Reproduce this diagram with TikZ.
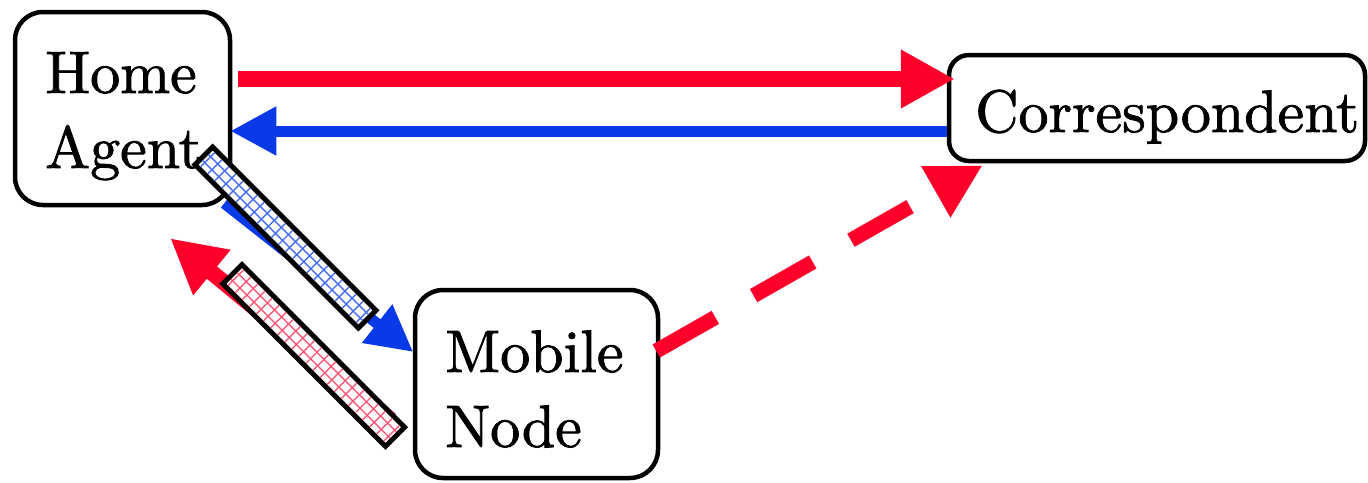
\documentclass[tikz,border=0pt]{standalone}
\usepackage{fontspec}
\setmainfont{lmroman10-regular.otf}[FakeBold=1.3]
\usetikzlibrary{arrows.meta,calc}
\definecolor{ared}{RGB}{255,0,43}
\definecolor{ablue}{RGB}{10,58,232}
\definecolor{lred}{RGB}{255,90,120}
\definecolor{lblue}{RGB}{70,110,240}
\begin{document}
\begin{tikzpicture}[x=1pt,y=-1pt,
  box/.style={draw=black, line width=4.5pt, fill=white, inner sep=0pt},
  txt/.style={font=\rmfamily\fontsize{60}{75}\selectfont, inner sep=0pt, anchor=base west},
  redarrow/.style={draw=ared, line width=16pt, -{Triangle[length=54pt,width=55pt]}},
  bluearrow/.style={draw=ablue, line width=11pt, -{Triangle[length=46pt,width=46pt]}},
  hatchbox/.style={draw=black, line width=5pt, fill=white, inner sep=0pt, rotate=-45},
  gridline/.style={line width=1.4pt},
]
\useasboundingbox (0,0) rectangle (1368,482);

% boxes
\node[box, rounded corners=28pt, minimum width=215pt, minimum height=193pt] (ha) at (122.5,108.5) {};
\node[box, rounded corners=20pt, minimum width=416pt, minimum height=106pt] (co) at (1157,108) {};
\node[box, rounded corners=28pt, minimum width=243pt, minimum height=188pt] (mn) at (536.5,384) {};

% texts
\node[txt] (ha1) at (45,93) {Home};
\node[txt] (ha2) at (45,168) {Agent};
\node[txt] (co1) at (975,132) {Correspondent};
\node[txt] (mn1) at (445,372) {Mobile};
\node[txt] (mn2) at (445,447) {Node};

% connectors
\draw[redarrow] ($(ha.east)+(6,-29.5)$) -- ($(co.west)+(8,-29)$);
\draw[bluearrow] ($(co.west)+(0,23)$) -- ($(ha.east)+(-2,22.5)$);
\draw[bluearrow] ($(ha.south east)+(-8,-4)$) -- ($(mn.west)+(0.5,-32)$);
\draw[redarrow] ($(mn.west)+(-22,36)$) -- ($(ha.south east)+(-62,31)$);
\draw[redarrow, line width=15pt, dash pattern=on 68pt off 44pt] ($(mn.east)+(-4,-33)$) -- ($(co.south west)+(36,2)$);

% hatched boxes
\node[hatchbox, minimum width=231pt, minimum height=25pt] (bh) at (285.5,237.5) {};
\begin{scope}[shift={(bh.center)}, rotate=-45]
  \clip (-113,-10) rectangle (113,10);
  \foreach \i in {-11,...,11}
    \draw[gridline, lblue] (\i*10,-15) -- (\i*10,15);
  \foreach \j in {-4.17,4.17}
    \draw[gridline, lblue] (-120,\j) -- (120,\j);
\end{scope}
\node[hatchbox, minimum width=230pt, minimum height=27pt] (rh) at (313.75,355.5) {};
\begin{scope}[shift={(rh.center)}, rotate=-45]
  \clip (-112.5,-11) rectangle (112.5,11);
  \foreach \i in {-11,...,11}
    \draw[gridline, lred] (\i*10,-15) -- (\i*10,15);
  \foreach \j in {-4.5,4.5}
    \draw[gridline, lred] (-120,\j) -- (120,\j);
\end{scope}
\end{tikzpicture}
\end{document}
